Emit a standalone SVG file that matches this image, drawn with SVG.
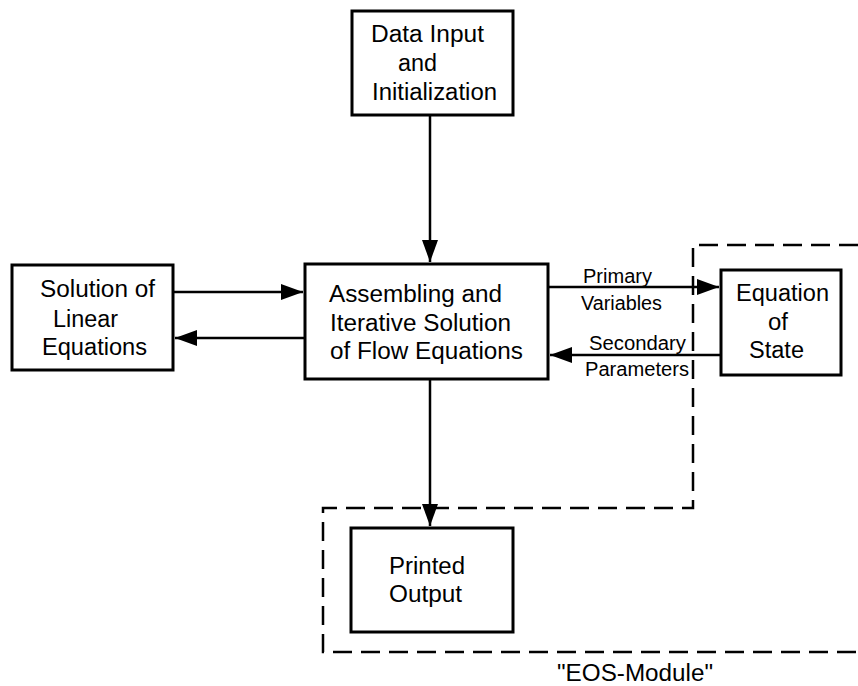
<svg xmlns="http://www.w3.org/2000/svg" width="858" height="686" viewBox="0 0 858 686">
<style>
.box{fill:#fff;stroke:#000;stroke-width:3}
.t{font-family:"Liberation Sans",Arial,sans-serif;font-size:23px;fill:#000}
.s{font-family:"Liberation Sans",Arial,sans-serif;font-size:20px;fill:#000}
.c{fill:none;stroke:#000;stroke-width:2.5}
.d{fill:none;stroke:#000;stroke-width:2.5;stroke-dasharray:19 9}
</style>
<defs>
<marker id="ah" markerUnits="userSpaceOnUse" markerWidth="24" markerHeight="18" refX="22" refY="8" orient="auto">
<path d="M0,0 L22,8 L0,16 Z" fill="#000"/>
</marker>
</defs>
<rect width="858" height="686" fill="#fff"/>
<g id="eos-module">
<path class="d" d="M858,245 L693,245 L693,508 L323,508 L323,652 L858,652"/>
<text class="t" x="557" y="681" textLength="156" lengthAdjust="spacingAndGlyphs">"EOS-Module"</text>
</g>
<g id="connectors">
<line class="c" x1="430" y1="115" x2="430" y2="262" marker-end="url(#ah)"/>
<line class="c" x1="173" y1="292" x2="303" y2="292" marker-end="url(#ah)"/>
<line class="c" x1="305" y1="338" x2="175" y2="338" marker-end="url(#ah)"/>
<line class="c" x1="548" y1="287" x2="719" y2="287" marker-end="url(#ah)"/>
<line class="c" x1="721" y1="355" x2="550" y2="355" marker-end="url(#ah)"/>
<line class="c" x1="430" y1="379" x2="430" y2="526" marker-end="url(#ah)"/>
<text class="s" x="583" y="283" textLength="69" lengthAdjust="spacingAndGlyphs">Primary</text>
<text class="s" x="581" y="310" textLength="81" lengthAdjust="spacingAndGlyphs">Variables</text>
<text class="s" x="589" y="350" textLength="97" lengthAdjust="spacingAndGlyphs">Secondary</text>
<text class="s" x="585" y="376" textLength="104" lengthAdjust="spacingAndGlyphs">Parameters</text>
</g>
<g id="data-input">
<rect class="box" x="352" y="11" width="161" height="104"/>
<text class="t" x="371" y="42" textLength="113" lengthAdjust="spacingAndGlyphs">Data Input</text>
<text class="t" x="398" y="71" textLength="39" lengthAdjust="spacingAndGlyphs">and</text>
<text class="t" x="372" y="100" textLength="125" lengthAdjust="spacingAndGlyphs">Initialization</text>
</g>
<g id="linear-solver">
<rect class="box" x="12" y="265" width="161" height="105"/>
<text class="t" x="40" y="297" textLength="115" lengthAdjust="spacingAndGlyphs">Solution of</text>
<text class="t" x="53" y="327" textLength="65" lengthAdjust="spacingAndGlyphs">Linear</text>
<text class="t" x="42" y="355" textLength="105" lengthAdjust="spacingAndGlyphs">Equations</text>
</g>
<g id="assembling">
<rect class="box" x="305" y="264" width="243" height="115"/>
<text class="t" x="329" y="302" textLength="173" lengthAdjust="spacingAndGlyphs">Assembling and</text>
<text class="t" x="330" y="331" textLength="181" lengthAdjust="spacingAndGlyphs">Iterative Solution</text>
<text class="t" x="330" y="359" textLength="193" lengthAdjust="spacingAndGlyphs">of Flow Equations</text>
</g>
<g id="eos">
<rect class="box" x="721" y="270" width="120" height="105"/>
<text class="t" x="736" y="301" textLength="93" lengthAdjust="spacingAndGlyphs">Equation</text>
<text class="t" x="768" y="330" textLength="20" lengthAdjust="spacingAndGlyphs">of</text>
<text class="t" x="749" y="358" textLength="55" lengthAdjust="spacingAndGlyphs">State</text>
</g>
<g id="printed-output">
<rect class="box" x="351" y="528" width="162" height="104"/>
<text class="t" x="389" y="574" textLength="76" lengthAdjust="spacingAndGlyphs">Printed</text>
<text class="t" x="389" y="602" textLength="73" lengthAdjust="spacingAndGlyphs">Output</text>
</g>
</svg>
